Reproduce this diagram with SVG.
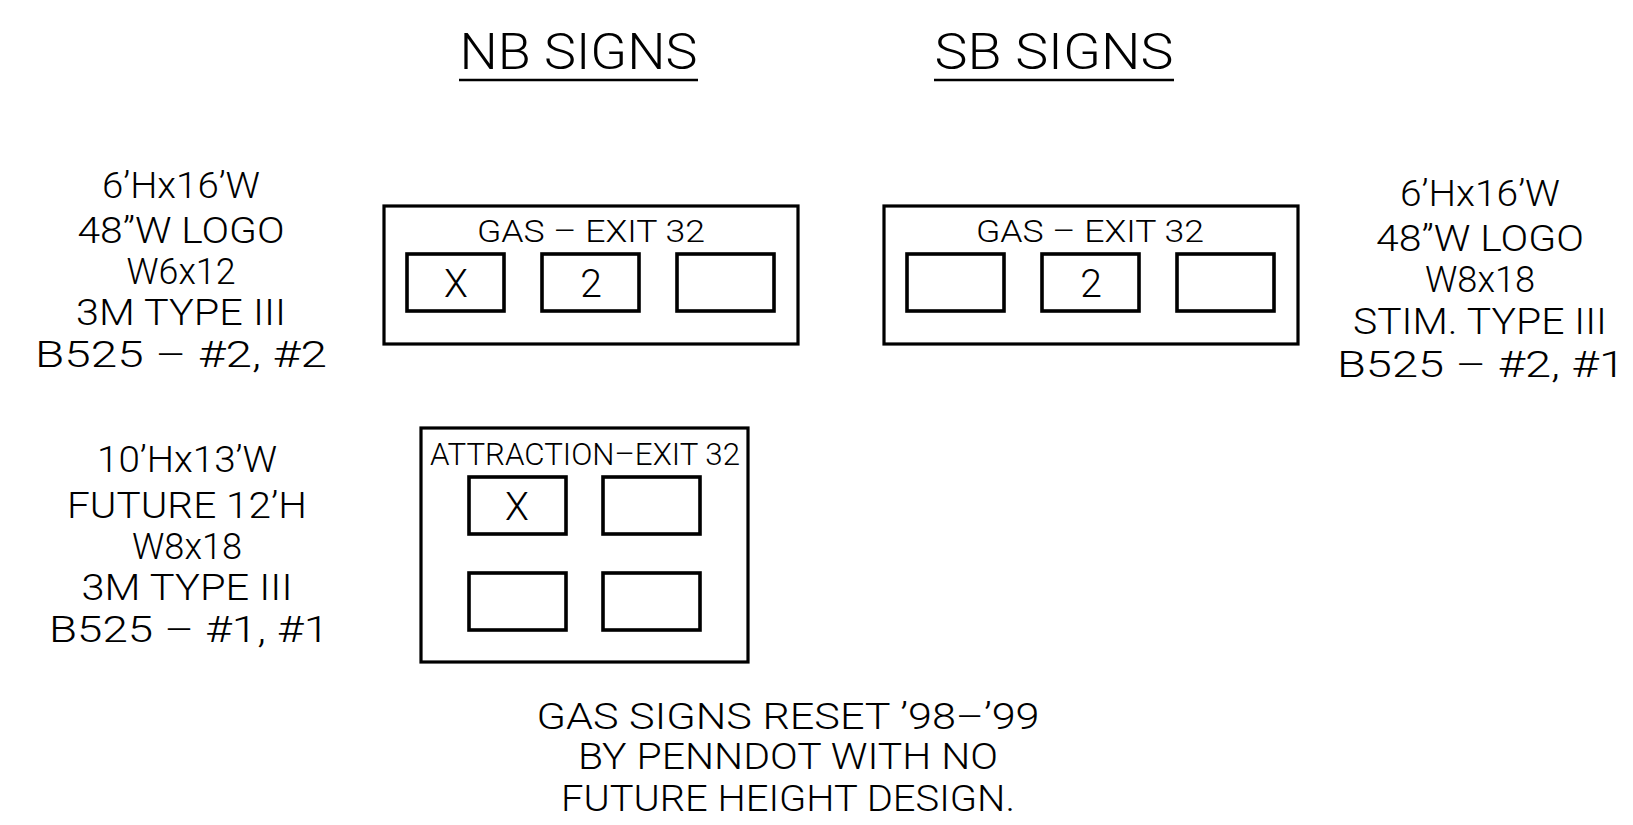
<svg xmlns="http://www.w3.org/2000/svg" width="1633" height="825" viewBox="0 0 1633 825">
<style>
text{font-family:"Roboto","Liberation Sans",sans-serif;font-weight:300;fill:#000;text-anchor:middle}
.h{font-size:50px}
.t{font-size:37px}
.bt{font-size:31px}
.c{font-size:39px}
.box{fill:none;stroke:#000;stroke-width:3.2}
.sub{fill:none;stroke:#000;stroke-width:3.6}
.ul{stroke:#000;stroke-width:2.4}
</style>
<rect width="1633" height="825" fill="#fff"/>
<g id="headings">
<text class="h" x="578.5" y="69" textLength="238" lengthAdjust="spacingAndGlyphs">NB SIGNS</text>
<line class="ul" x1="459" y1="80" x2="698" y2="80"/>
<text class="h" x="1054" y="69" textLength="239" lengthAdjust="spacingAndGlyphs">SB SIGNS</text>
<line class="ul" x1="934" y1="80" x2="1174" y2="80"/>
</g>
<g id="nb-spec">
<text class="t" x="181" y="198" textLength="158" lengthAdjust="spacingAndGlyphs">6’Hx16’W</text>
<text class="t" x="181" y="243" textLength="207" lengthAdjust="spacingAndGlyphs">48”W LOGO</text>
<text class="t" x="181" y="284" textLength="109" lengthAdjust="spacingAndGlyphs">W6x12</text>
<text class="t" x="181" y="325" textLength="210" lengthAdjust="spacingAndGlyphs">3M TYPE III</text>
<text class="t" x="181" y="367" textLength="292" lengthAdjust="spacingAndGlyphs">B525 – #2, #2</text>
</g>
<g id="sb-spec">
<text class="t" x="1480" y="206" textLength="160" lengthAdjust="spacingAndGlyphs">6’Hx16’W</text>
<text class="t" x="1480" y="251" textLength="208" lengthAdjust="spacingAndGlyphs">48”W LOGO</text>
<text class="t" x="1480" y="292" textLength="110" lengthAdjust="spacingAndGlyphs">W8x18</text>
<text class="t" x="1480" y="334" textLength="254" lengthAdjust="spacingAndGlyphs">STIM. TYPE III</text>
<text class="t" x="1481" y="377" textLength="288" lengthAdjust="spacingAndGlyphs">B525 – #2, #1</text>
</g>
<g id="attr-spec">
<text class="t" x="187" y="472" textLength="180" lengthAdjust="spacingAndGlyphs">10’Hx13’W</text>
<text class="t" x="187" y="518" textLength="240" lengthAdjust="spacingAndGlyphs">FUTURE 12’H</text>
<text class="t" x="187" y="559" textLength="110" lengthAdjust="spacingAndGlyphs">W8x18</text>
<text class="t" x="187" y="600" textLength="211" lengthAdjust="spacingAndGlyphs">3M TYPE III</text>
<text class="t" x="189" y="642" textLength="280" lengthAdjust="spacingAndGlyphs">B525 – #1, #1</text>
</g>
<g id="nb-sign">
<rect class="box" x="384" y="206" width="414" height="138"/>
<text class="bt" x="591" y="242" textLength="228" lengthAdjust="spacingAndGlyphs">GAS – EXIT 32</text>
<rect class="sub" x="407" y="254" width="97" height="57"/>
<rect class="sub" x="542" y="254" width="97" height="57"/>
<rect class="sub" x="677" y="254" width="97" height="57"/>
<text class="c" x="456" y="297">X</text>
<text class="c" x="591" y="297">2</text>
</g>
<g id="sb-sign">
<rect class="box" x="884" y="206" width="414" height="138"/>
<text class="bt" x="1090" y="242" textLength="228" lengthAdjust="spacingAndGlyphs">GAS – EXIT 32</text>
<rect class="sub" x="907" y="254" width="97" height="57"/>
<rect class="sub" x="1042" y="254" width="97" height="57"/>
<rect class="sub" x="1177" y="254" width="97" height="57"/>
<text class="c" x="1091" y="297">2</text>
</g>
<g id="attraction-sign">
<rect class="box" x="421" y="428" width="327" height="234"/>
<text class="bt" x="585" y="465" textLength="310" lengthAdjust="spacingAndGlyphs">ATTRACTION–EXIT 32</text>
<rect class="sub" x="469" y="477" width="97" height="57"/>
<rect class="sub" x="603" y="477" width="97" height="57"/>
<rect class="sub" x="469" y="573" width="97" height="57"/>
<rect class="sub" x="603" y="573" width="97" height="57"/>
<text class="c" x="517" y="520">X</text>
</g>
<g id="note">
<text class="t" x="788" y="729" textLength="503" lengthAdjust="spacingAndGlyphs">GAS SIGNS RESET ’98–’99</text>
<text class="t" x="788" y="769" textLength="420" lengthAdjust="spacingAndGlyphs">BY PENNDOT WITH NO</text>
<text class="t" x="788" y="811" textLength="454" lengthAdjust="spacingAndGlyphs">FUTURE HEIGHT DESIGN.</text>
</g>
<g id="connectors"/>
</svg>
